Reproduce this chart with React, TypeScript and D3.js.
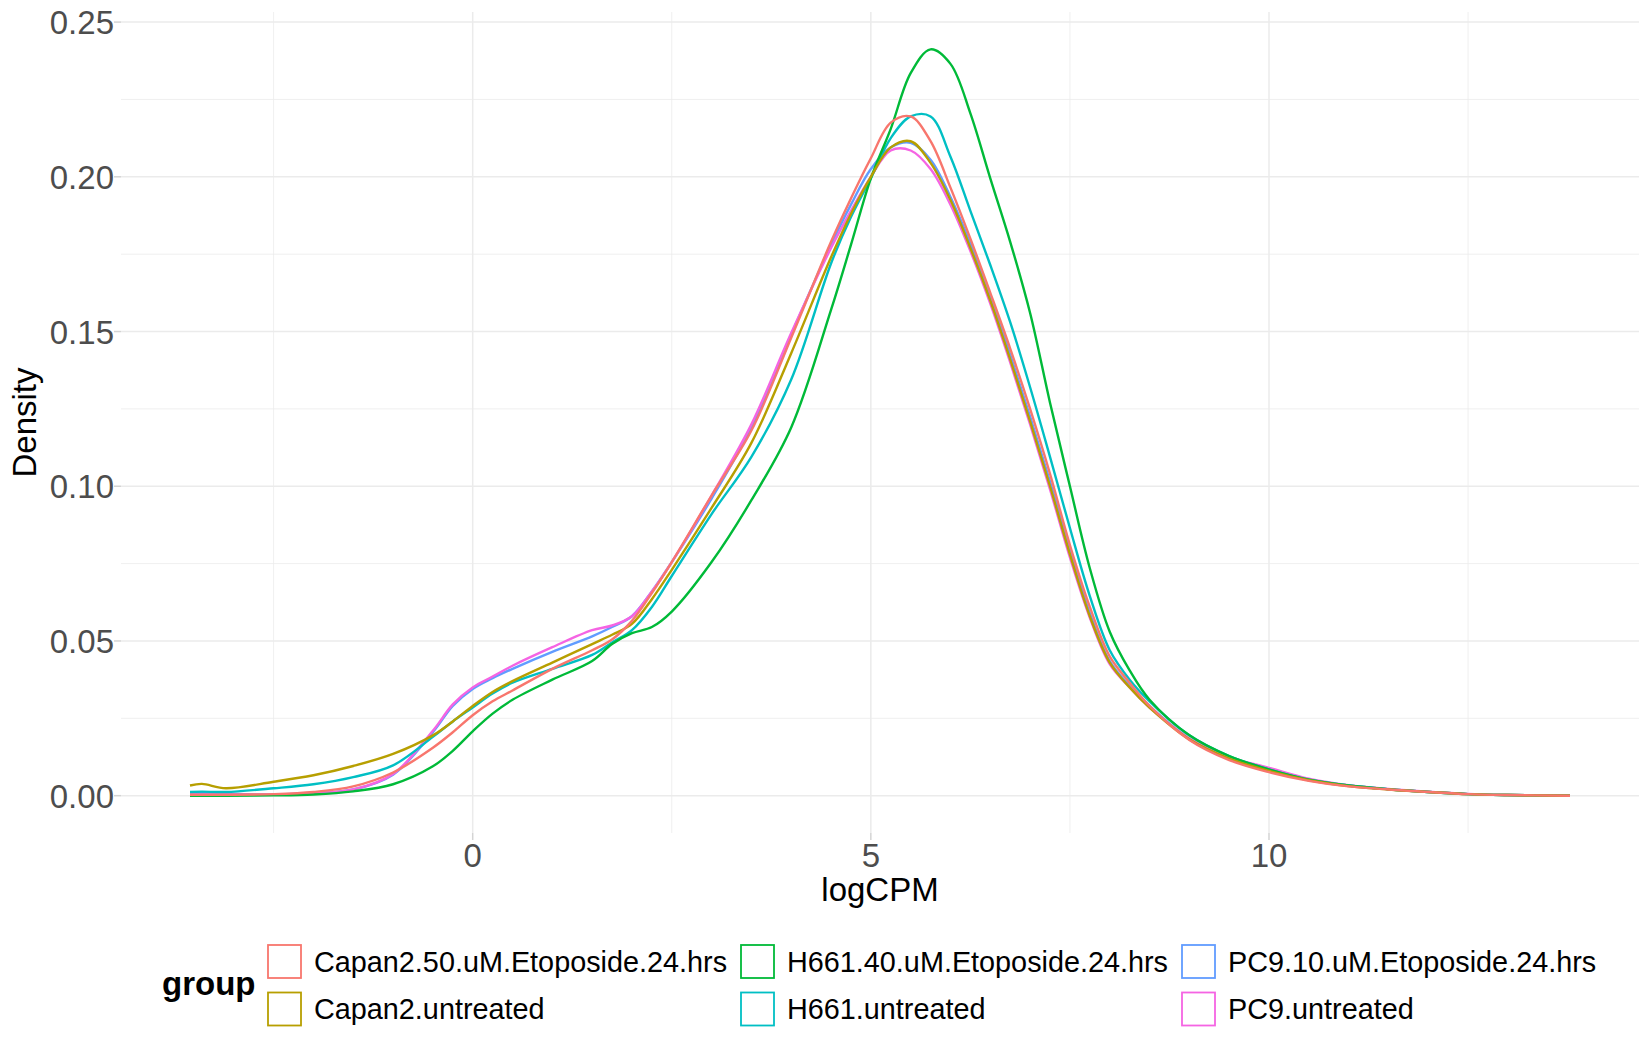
import React from "react";
import * as d3 from "d3";

// ---- data ----
const logCPM = [-3.55, -3.4, -3.1, -2.5, -2, -1.5, -1, -0.5, -0.25, 0, 0.25, 0.5, 1, 1.5, 1.75, 2, 2.25, 2.5, 3, 3.5, 4, 4.5, 4.75, 5, 5.25, 5.5, 5.75, 6, 6.25, 6.5, 6.75, 7, 7.25, 7.5, 7.75, 8, 8.25, 8.5, 9, 9.5, 10, 10.5, 11, 11.5, 12, 12.5, 13, 13.78];

const capan2Etoposide = [0.0003, 0.0003, 0.0003, 0.0005, 0.0012, 0.003, 0.0075, 0.0155, 0.0205, 0.026, 0.0305, 0.034, 0.041, 0.047, 0.0505, 0.0565, 0.0655, 0.0755, 0.097, 0.118, 0.148, 0.179, 0.193, 0.206, 0.2175, 0.2195, 0.2115, 0.1965, 0.18, 0.1625, 0.1445, 0.125, 0.104, 0.081, 0.061, 0.045, 0.0365, 0.029, 0.018, 0.0115, 0.0076, 0.0048, 0.003, 0.002, 0.0012, 0.0005, 0.0002, 0];
const capan2Untreated = [0.0033, 0.0038, 0.0024, 0.0045, 0.0066, 0.0096, 0.0135, 0.0195, 0.024, 0.029, 0.0335, 0.037, 0.043, 0.049, 0.052, 0.0555, 0.0635, 0.073, 0.093, 0.114, 0.143, 0.174, 0.188, 0.2, 0.2095, 0.2115, 0.2045, 0.1925, 0.177, 0.16, 0.141, 0.121, 0.1, 0.078, 0.058, 0.043, 0.035, 0.0285, 0.0182, 0.012, 0.008, 0.005, 0.0031, 0.002, 0.0012, 0.0005, 0.0002, 0];
const h661Etoposide = [0, 0, 0, 0.0001, 0.0004, 0.0014, 0.0037, 0.0095, 0.0145, 0.0208, 0.0265, 0.031, 0.0375, 0.0435, 0.049, 0.0525, 0.0545, 0.0595, 0.0755, 0.0955, 0.119, 0.157, 0.178, 0.1995, 0.2155, 0.2335, 0.2412, 0.2365, 0.2205, 0.1995, 0.179, 0.156, 0.127, 0.1, 0.0735, 0.053, 0.0405, 0.031, 0.0195, 0.0128, 0.0085, 0.0052, 0.0033, 0.0021, 0.0012, 0.0005, 0.0002, 0];
const h661Untreated = [0.0012, 0.0013, 0.0012, 0.0024, 0.0037, 0.006, 0.0098, 0.019, 0.024, 0.0285, 0.033, 0.0365, 0.041, 0.0455, 0.0495, 0.0535, 0.061, 0.071, 0.091, 0.1095, 0.1345, 0.172, 0.187, 0.1995, 0.2125, 0.2195, 0.2195, 0.2065, 0.189, 0.1715, 0.153, 0.132, 0.1095, 0.0865, 0.0645, 0.047, 0.0375, 0.0305, 0.0195, 0.0128, 0.0085, 0.0052, 0.0033, 0.0021, 0.0012, 0.0005, 0.0002, 0];
const pc9Etoposide = [0.0008, 0.0008, 0.0006, 0.0004, 0.0008, 0.002, 0.0068, 0.0205, 0.029, 0.0345, 0.038, 0.041, 0.0465, 0.0515, 0.0545, 0.058, 0.066, 0.0755, 0.096, 0.119, 0.149, 0.178, 0.191, 0.2025, 0.2095, 0.211, 0.2055, 0.1935, 0.1785, 0.1615, 0.1425, 0.1225, 0.1015, 0.0795, 0.059, 0.0435, 0.0355, 0.029, 0.0185, 0.0122, 0.0085, 0.0052, 0.0033, 0.0021, 0.0012, 0.0005, 0.0002, 0];
const pc9Untreated = [0.0003, 0.0003, 0.0003, 0.0004, 0.0008, 0.002, 0.007, 0.021, 0.0295, 0.035, 0.0385, 0.042, 0.048, 0.0535, 0.055, 0.058, 0.066, 0.0755, 0.097, 0.12, 0.1495, 0.177, 0.189, 0.2, 0.2085, 0.2085, 0.2025, 0.191, 0.176, 0.159, 0.14, 0.12, 0.099, 0.077, 0.0575, 0.0425, 0.035, 0.0285, 0.0185, 0.0125, 0.009, 0.0055, 0.0034, 0.0022, 0.0013, 0.0006, 0.0002, 0];

const groups = [
  "Capan2.50.uM.Etoposide.24.hrs",
  "Capan2.untreated",
  "H661.40.uM.Etoposide.24.hrs",
  "H661.untreated",
  "PC9.10.uM.Etoposide.24.hrs",
  "PC9.untreated",
];
const groupValues = [capan2Etoposide, capan2Untreated, h661Etoposide, h661Untreated, pc9Etoposide, pc9Untreated];
const groupColors = ["#F8766D", "#B79F00", "#00BA38", "#00BFC4", "#619CFF", "#F564E3"];
const drawOrder = [4, 5, 3, 2, 1, 0];

const xMajor = [0, 5, 10];
const xMinor = [-2.5, 2.5, 7.5, 12.5];
const yMajor = [0, 0.05, 0.1, 0.15, 0.2, 0.25];
const yMinor = [0.025, 0.075, 0.125, 0.175, 0.225];

// ---- layout ----
const W = 1650;
const H = 1050;
const panel = { left: 121, right: 1639, top: 12, bottom: 833 };
const FONT = "'Liberation Sans', Arial, Helvetica, sans-serif";

export default function App() {
  if (typeof document !== "undefined") document.body.style.margin = "0";

  const [xMin, xMax] = d3.extent(logCPM) as [number, number];
  const xPad = (xMax - xMin) * 0.05;
  const x = d3.scaleLinear().domain([xMin - xPad, xMax + xPad]).range([panel.left, panel.right]);
  const yTop = d3.max(groupValues, (v) => d3.max(v)) as number;
  const yPad = yTop * 0.05;
  const y = d3.scaleLinear().domain([-yPad, yTop + yPad]).range([panel.bottom, panel.top]);

  const line = d3
    .line<number>()
    .x((_, i) => x(logCPM[i]))
    .y((d) => y(d))
    .curve(d3.curveCatmullRom.alpha(0.5));

  const legendCols = [268, 741, 1182];
  const legendRows = [961.5, 1009];
  const key = 33;

  return (
    <svg width={W} height={H} style={{ display: "block", background: "#fff" }} fontFamily={FONT}>
      {/* minor grid */}
      {xMinor.map((v) => (
        <line key={"xm" + v} x1={x(v)} x2={x(v)} y1={panel.top} y2={panel.bottom} stroke="#EBEBEB" strokeWidth={0.8} />
      ))}
      {yMinor.map((v) => (
        <line key={"ym" + v} x1={panel.left} x2={panel.right} y1={y(v)} y2={y(v)} stroke="#EBEBEB" strokeWidth={0.8} />
      ))}
      {/* major grid */}
      {xMajor.map((v) => (
        <line key={"xM" + v} x1={x(v)} x2={x(v)} y1={panel.top} y2={panel.bottom} stroke="#EBEBEB" strokeWidth={1.5} />
      ))}
      {yMajor.map((v) => (
        <line key={"yM" + v} x1={panel.left} x2={panel.right} y1={y(v)} y2={y(v)} stroke="#EBEBEB" strokeWidth={1.5} />
      ))}

      {/* density lines */}
      {drawOrder.map((gi) => (
        <path key={groups[gi]} d={line(groupValues[gi]) || ""} fill="none" stroke={groupColors[gi]} strokeWidth={2.4} strokeLinejoin="round" />
      ))}

      {/* axis ticks */}
      {xMajor.map((v) => (
        <line key={"xt" + v} x1={x(v)} x2={x(v)} y1={panel.bottom} y2={panel.bottom + 7} stroke="#D4D4D4" strokeWidth={1.5} />
      ))}
      {yMajor.map((v) => (
        <line key={"yt" + v} x1={panel.left - 7} x2={panel.left} y1={y(v)} y2={y(v)} stroke="#D4D4D4" strokeWidth={1.5} />
      ))}

      {/* tick labels */}
      {xMajor.map((v) => (
        <text key={"xl" + v} x={x(v)} y={867} textAnchor="middle" fontSize={33} fill="#4D4D4D">
          {d3.format("d")(v)}
        </text>
      ))}
      {yMajor.map((v) => (
        <text key={"yl" + v} x={114} y={y(v) + 12} textAnchor="end" fontSize={33} fill="#4D4D4D">
          {d3.format(".2f")(v)}
        </text>
      ))}

      {/* axis titles */}
      <text x={(panel.left + panel.right) / 2} y={901} textAnchor="middle" fontSize={33} fill="#000">
        logCPM
      </text>
      <text transform={`translate(35.5, ${(panel.top + panel.bottom) / 2}) rotate(-90)`} textAnchor="middle" fontSize={33} fill="#000">
        Density
      </text>

      {/* legend */}
      <text x={162} y={995} fontSize={33} fontWeight="bold" fill="#000">
        group
      </text>
      {groups.map((g, i) => {
        const col = Math.floor(i / 2);
        const row = i % 2;
        const kx = legendCols[col];
        const ky = legendRows[row] - key / 2;
        return (
          <g key={"lg" + g}>
            <rect x={kx} y={ky} width={key} height={key} fill="#fff" stroke={groupColors[i]} strokeWidth={1.8} />
            <text x={kx + key + 13} y={legendRows[row] + 10.3} fontSize={28.8} fill="#000">
              {g}
            </text>
          </g>
        );
      })}
    </svg>
  );
}
